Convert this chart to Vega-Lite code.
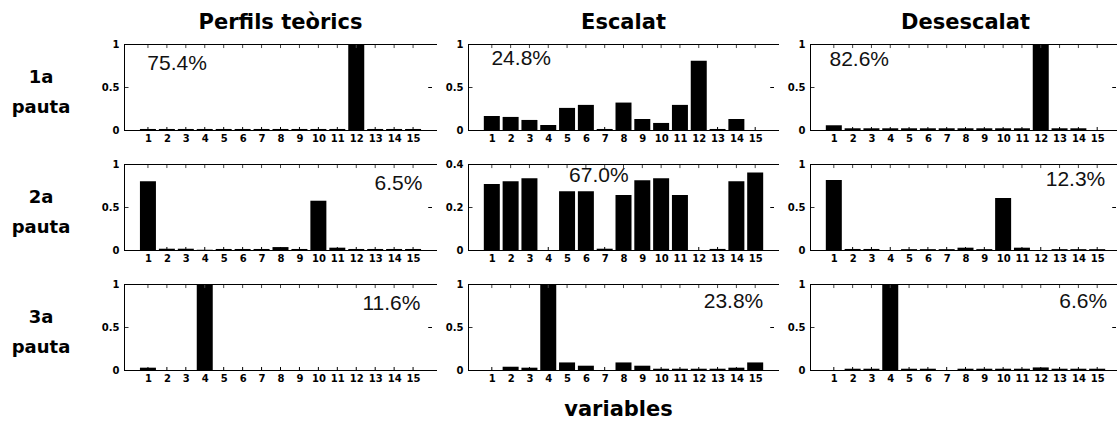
{
 "$schema": "https://vega.github.io/schema/vega-lite/v6.json",
 "padding": {"left": 0, "top": 12, "right": 0, "bottom": 0},
 "background": "white",
 "bounds": "flush",
 "align": "each",
 "columns": 4,
 "spacing": {"row": 34, "column": 31},
 "config": {
  "view": {"stroke": null},
  "axis": {"grid": false, "domainColor": "black", "domainWidth": 1, "tickColor": "#333", "tickWidth": 1, "labelFont": "DejaVu Sans", "labelFontSize": 10, "labelFontWeight": "bold", "labelColor": "black", "labelFlush": false, "labelOverlap": false, "titleFont": "DejaVu Sans", "titleColor": "black", "zindex": 1},
  "axisBottom": {"domain": false, "ticks": false, "labelPadding": 3},
  "axisLeft": {"tickSize": -4, "labelPadding": 9},
  "title": {"font": "DejaVu Sans", "fontSize": 21, "fontWeight": "bold", "color": "black", "frame": "group", "offset": 6, "anchor": "middle"}
 },
 "datasets": {
  "files": [
   {"pauta": "1a", "etiqueta": "1a\npauta"},
   {"pauta": "2a", "etiqueta": "2a\npauta"},
   {"pauta": "3a", "etiqueta": "3a\npauta"}
  ],
  "notes": [
   {"pauta": "1a", "perfil": "teoric", "pct": "75.4%"},
   {"pauta": "1a", "perfil": "escalat", "pct": "24.8%"},
   {"pauta": "1a", "perfil": "desescalat", "pct": "82.6%"},
   {"pauta": "2a", "perfil": "teoric", "pct": "6.5%"},
   {"pauta": "2a", "perfil": "escalat", "pct": "67.0%"},
   {"pauta": "2a", "perfil": "desescalat", "pct": "12.3%"},
   {"pauta": "3a", "perfil": "teoric", "pct": "11.6%"},
   {"pauta": "3a", "perfil": "escalat", "pct": "23.8%"},
   {"pauta": "3a", "perfil": "desescalat", "pct": "6.6%"}
  ],
  "barres": [
   {"pauta": "1a", "perfil": "teoric", "variable": 1, "valor": 0.012},
   {"pauta": "1a", "perfil": "teoric", "variable": 2, "valor": 0.012},
   {"pauta": "1a", "perfil": "teoric", "variable": 3, "valor": 0.012},
   {"pauta": "1a", "perfil": "teoric", "variable": 4, "valor": 0.012},
   {"pauta": "1a", "perfil": "teoric", "variable": 5, "valor": 0.012},
   {"pauta": "1a", "perfil": "teoric", "variable": 6, "valor": 0.012},
   {"pauta": "1a", "perfil": "teoric", "variable": 7, "valor": 0.012},
   {"pauta": "1a", "perfil": "teoric", "variable": 8, "valor": 0.012},
   {"pauta": "1a", "perfil": "teoric", "variable": 9, "valor": 0.012},
   {"pauta": "1a", "perfil": "teoric", "variable": 10, "valor": 0.012},
   {"pauta": "1a", "perfil": "teoric", "variable": 11, "valor": 0.012},
   {"pauta": "1a", "perfil": "teoric", "variable": 12, "valor": 1},
   {"pauta": "1a", "perfil": "teoric", "variable": 13, "valor": 0.012},
   {"pauta": "1a", "perfil": "teoric", "variable": 14, "valor": 0.012},
   {"pauta": "1a", "perfil": "teoric", "variable": 15, "valor": 0.012},
   {"pauta": "1a", "perfil": "escalat", "variable": 1, "valor": 0.163},
   {"pauta": "1a", "perfil": "escalat", "variable": 2, "valor": 0.152},
   {"pauta": "1a", "perfil": "escalat", "variable": 3, "valor": 0.117},
   {"pauta": "1a", "perfil": "escalat", "variable": 4, "valor": 0.058},
   {"pauta": "1a", "perfil": "escalat", "variable": 5, "valor": 0.257},
   {"pauta": "1a", "perfil": "escalat", "variable": 6, "valor": 0.292},
   {"pauta": "1a", "perfil": "escalat", "variable": 7, "valor": 0.012},
   {"pauta": "1a", "perfil": "escalat", "variable": 8, "valor": 0.319},
   {"pauta": "1a", "perfil": "escalat", "variable": 9, "valor": 0.128},
   {"pauta": "1a", "perfil": "escalat", "variable": 10, "valor": 0.082},
   {"pauta": "1a", "perfil": "escalat", "variable": 11, "valor": 0.292},
   {"pauta": "1a", "perfil": "escalat", "variable": 12, "valor": 0.805},
   {"pauta": "1a", "perfil": "escalat", "variable": 13, "valor": 0.012},
   {"pauta": "1a", "perfil": "escalat", "variable": 14, "valor": 0.128},
   {"pauta": "1a", "perfil": "escalat", "variable": 15, "valor": 0},
   {"pauta": "1a", "perfil": "desescalat", "variable": 1, "valor": 0.055},
   {"pauta": "1a", "perfil": "desescalat", "variable": 2, "valor": 0.02},
   {"pauta": "1a", "perfil": "desescalat", "variable": 3, "valor": 0.02},
   {"pauta": "1a", "perfil": "desescalat", "variable": 4, "valor": 0.02},
   {"pauta": "1a", "perfil": "desescalat", "variable": 5, "valor": 0.02},
   {"pauta": "1a", "perfil": "desescalat", "variable": 6, "valor": 0.02},
   {"pauta": "1a", "perfil": "desescalat", "variable": 7, "valor": 0.02},
   {"pauta": "1a", "perfil": "desescalat", "variable": 8, "valor": 0.02},
   {"pauta": "1a", "perfil": "desescalat", "variable": 9, "valor": 0.02},
   {"pauta": "1a", "perfil": "desescalat", "variable": 10, "valor": 0.02},
   {"pauta": "1a", "perfil": "desescalat", "variable": 11, "valor": 0.02},
   {"pauta": "1a", "perfil": "desescalat", "variable": 12, "valor": 1},
   {"pauta": "1a", "perfil": "desescalat", "variable": 13, "valor": 0.02},
   {"pauta": "1a", "perfil": "desescalat", "variable": 14, "valor": 0.02},
   {"pauta": "1a", "perfil": "desescalat", "variable": 15, "valor": 0},
   {"pauta": "2a", "perfil": "teoric", "variable": 1, "valor": 0.8},
   {"pauta": "2a", "perfil": "teoric", "variable": 2, "valor": 0.015},
   {"pauta": "2a", "perfil": "teoric", "variable": 3, "valor": 0.015},
   {"pauta": "2a", "perfil": "teoric", "variable": 4, "valor": 0.003},
   {"pauta": "2a", "perfil": "teoric", "variable": 5, "valor": 0.012},
   {"pauta": "2a", "perfil": "teoric", "variable": 6, "valor": 0.012},
   {"pauta": "2a", "perfil": "teoric", "variable": 7, "valor": 0.012},
   {"pauta": "2a", "perfil": "teoric", "variable": 8, "valor": 0.034},
   {"pauta": "2a", "perfil": "teoric", "variable": 9, "valor": 0.012},
   {"pauta": "2a", "perfil": "teoric", "variable": 10, "valor": 0.573},
   {"pauta": "2a", "perfil": "teoric", "variable": 11, "valor": 0.027},
   {"pauta": "2a", "perfil": "teoric", "variable": 12, "valor": 0.012},
   {"pauta": "2a", "perfil": "teoric", "variable": 13, "valor": 0.012},
   {"pauta": "2a", "perfil": "teoric", "variable": 14, "valor": 0.012},
   {"pauta": "2a", "perfil": "teoric", "variable": 15, "valor": 0.012},
   {"pauta": "2a", "perfil": "escalat", "variable": 1, "valor": 0.307},
   {"pauta": "2a", "perfil": "escalat", "variable": 2, "valor": 0.32},
   {"pauta": "2a", "perfil": "escalat", "variable": 3, "valor": 0.334},
   {"pauta": "2a", "perfil": "escalat", "variable": 4, "valor": 0},
   {"pauta": "2a", "perfil": "escalat", "variable": 5, "valor": 0.273},
   {"pauta": "2a", "perfil": "escalat", "variable": 6, "valor": 0.273},
   {"pauta": "2a", "perfil": "escalat", "variable": 7, "valor": 0.006},
   {"pauta": "2a", "perfil": "escalat", "variable": 8, "valor": 0.256},
   {"pauta": "2a", "perfil": "escalat", "variable": 9, "valor": 0.324},
   {"pauta": "2a", "perfil": "escalat", "variable": 10, "valor": 0.334},
   {"pauta": "2a", "perfil": "escalat", "variable": 11, "valor": 0.256},
   {"pauta": "2a", "perfil": "escalat", "variable": 12, "valor": 0},
   {"pauta": "2a", "perfil": "escalat", "variable": 13, "valor": 0.005},
   {"pauta": "2a", "perfil": "escalat", "variable": 14, "valor": 0.32},
   {"pauta": "2a", "perfil": "escalat", "variable": 15, "valor": 0.361},
   {"pauta": "2a", "perfil": "desescalat", "variable": 1, "valor": 0.815},
   {"pauta": "2a", "perfil": "desescalat", "variable": 2, "valor": 0.012},
   {"pauta": "2a", "perfil": "desescalat", "variable": 3, "valor": 0.012},
   {"pauta": "2a", "perfil": "desescalat", "variable": 4, "valor": 0},
   {"pauta": "2a", "perfil": "desescalat", "variable": 5, "valor": 0.01},
   {"pauta": "2a", "perfil": "desescalat", "variable": 6, "valor": 0.01},
   {"pauta": "2a", "perfil": "desescalat", "variable": 7, "valor": 0.01},
   {"pauta": "2a", "perfil": "desescalat", "variable": 8, "valor": 0.027},
   {"pauta": "2a", "perfil": "desescalat", "variable": 9, "valor": 0.01},
   {"pauta": "2a", "perfil": "desescalat", "variable": 10, "valor": 0.604},
   {"pauta": "2a", "perfil": "desescalat", "variable": 11, "valor": 0.027},
   {"pauta": "2a", "perfil": "desescalat", "variable": 12, "valor": 0},
   {"pauta": "2a", "perfil": "desescalat", "variable": 13, "valor": 0.01},
   {"pauta": "2a", "perfil": "desescalat", "variable": 14, "valor": 0.01},
   {"pauta": "2a", "perfil": "desescalat", "variable": 15, "valor": 0.01},
   {"pauta": "3a", "perfil": "teoric", "variable": 1, "valor": 0.027},
   {"pauta": "3a", "perfil": "teoric", "variable": 2, "valor": 0},
   {"pauta": "3a", "perfil": "teoric", "variable": 3, "valor": 0},
   {"pauta": "3a", "perfil": "teoric", "variable": 4, "valor": 1},
   {"pauta": "3a", "perfil": "teoric", "variable": 5, "valor": 0},
   {"pauta": "3a", "perfil": "teoric", "variable": 6, "valor": 0},
   {"pauta": "3a", "perfil": "teoric", "variable": 7, "valor": 0},
   {"pauta": "3a", "perfil": "teoric", "variable": 8, "valor": 0},
   {"pauta": "3a", "perfil": "teoric", "variable": 9, "valor": 0},
   {"pauta": "3a", "perfil": "teoric", "variable": 10, "valor": 0},
   {"pauta": "3a", "perfil": "teoric", "variable": 11, "valor": 0},
   {"pauta": "3a", "perfil": "teoric", "variable": 12, "valor": 0},
   {"pauta": "3a", "perfil": "teoric", "variable": 13, "valor": 0},
   {"pauta": "3a", "perfil": "teoric", "variable": 14, "valor": 0},
   {"pauta": "3a", "perfil": "teoric", "variable": 15, "valor": 0},
   {"pauta": "3a", "perfil": "escalat", "variable": 1, "valor": 0},
   {"pauta": "3a", "perfil": "escalat", "variable": 2, "valor": 0.038},
   {"pauta": "3a", "perfil": "escalat", "variable": 3, "valor": 0.027},
   {"pauta": "3a", "perfil": "escalat", "variable": 4, "valor": 1},
   {"pauta": "3a", "perfil": "escalat", "variable": 5, "valor": 0.088},
   {"pauta": "3a", "perfil": "escalat", "variable": 6, "valor": 0.05},
   {"pauta": "3a", "perfil": "escalat", "variable": 7, "valor": 0},
   {"pauta": "3a", "perfil": "escalat", "variable": 8, "valor": 0.088},
   {"pauta": "3a", "perfil": "escalat", "variable": 9, "valor": 0.05},
   {"pauta": "3a", "perfil": "escalat", "variable": 10, "valor": 0.015},
   {"pauta": "3a", "perfil": "escalat", "variable": 11, "valor": 0.015},
   {"pauta": "3a", "perfil": "escalat", "variable": 12, "valor": 0.015},
   {"pauta": "3a", "perfil": "escalat", "variable": 13, "valor": 0.015},
   {"pauta": "3a", "perfil": "escalat", "variable": 14, "valor": 0.027},
   {"pauta": "3a", "perfil": "escalat", "variable": 15, "valor": 0.088},
   {"pauta": "3a", "perfil": "desescalat", "variable": 1, "valor": 0},
   {"pauta": "3a", "perfil": "desescalat", "variable": 2, "valor": 0.015},
   {"pauta": "3a", "perfil": "desescalat", "variable": 3, "valor": 0.015},
   {"pauta": "3a", "perfil": "desescalat", "variable": 4, "valor": 1},
   {"pauta": "3a", "perfil": "desescalat", "variable": 5, "valor": 0.015},
   {"pauta": "3a", "perfil": "desescalat", "variable": 6, "valor": 0.015},
   {"pauta": "3a", "perfil": "desescalat", "variable": 7, "valor": 0},
   {"pauta": "3a", "perfil": "desescalat", "variable": 8, "valor": 0.015},
   {"pauta": "3a", "perfil": "desescalat", "variable": 9, "valor": 0.015},
   {"pauta": "3a", "perfil": "desescalat", "variable": 10, "valor": 0.015},
   {"pauta": "3a", "perfil": "desescalat", "variable": 11, "valor": 0.015},
   {"pauta": "3a", "perfil": "desescalat", "variable": 12, "valor": 0.03},
   {"pauta": "3a", "perfil": "desescalat", "variable": 13, "valor": 0.015},
   {"pauta": "3a", "perfil": "desescalat", "variable": 14, "valor": 0.015},
   {"pauta": "3a", "perfil": "desescalat", "variable": 15, "valor": 0.015}
  ]
 },
 "concat": [
   {"width": 93, "height": 86, "view": {"fill": "white", "stroke": null}, "data": {"name": "files"}, "transform": [{"filter": "datum.pauta==='1a'"}],
    "mark": {"type": "text", "lineBreak": "\n", "font": "DejaVu Sans", "fontSize": 18, "fontWeight": "bold", "lineHeight": 30, "align": "center", "baseline": "middle", "dx": -5.5, "dy": -9, "color": "black"},
    "encoding": {"text": {"field": "etiqueta"}}},
   {"width": 313, "height": 86, "title": "Perfils teòrics",
    "layer": [
     {"data": {"name": "barres"}, "transform": [{"filter": "datum.pauta==='1a'&&datum.perfil==='teoric'"}], "mark": {"type": "bar", "orient": "vertical", "width": 16, "color": "black"},
      "encoding": {"x": {"field": "variable", "type": "quantitative", "title": null, "scale": {"domain": [0, 16], "nice": false, "zero": false}, "axis": {"orient": "bottom", "values": [1,2,3,4,5,6,7,8,9,10,11,12,13,14,15], "format": "d"}},
                   "y": {"field": "valor", "type": "quantitative", "title": null, "scale": {"domain": [0, 1], "nice": false}, "axis": {"orient": "left", "values": [0, 0.5, 1], "format": "~g"}}}},
     {"data": {"name": "barres"}, "transform": [{"filter": "datum.pauta==='1a'&&datum.perfil==='teoric'"}], "mark": {"type": "rule", "color": "black"},
      "encoding": {"x": {"field": "variable", "type": "quantitative", "axis": null}, "y": {"datum": 0, "type": "quantitative", "axis": null}, "y2": {"datum": 0.035}}},
     {"data": {"name": "barres"}, "transform": [{"filter": "datum.pauta==='1a'&&datum.perfil==='teoric'"}], "mark": {"type": "rule", "color": "#444"},
      "encoding": {"x": {"field": "variable", "type": "quantitative", "axis": null}, "y": {"datum": 1, "type": "quantitative", "axis": null}, "y2": {"datum": 0.953}}},
     {"data": {"name": "notes"}, "transform": [{"filter": "datum.pauta==='1a'&&datum.perfil==='teoric'"}], "mark": {"type": "rule", "color": "black", "yOffset": 0.5},
      "encoding": {"y": {"datum": 1, "type": "quantitative", "axis": null}}},
     {"data": {"name": "notes"}, "transform": [{"filter": "datum.pauta==='1a'&&datum.perfil==='teoric'"}], "mark": {"type": "rule", "color": "black", "yOffset": 0.5},
      "encoding": {"y": {"datum": 0, "type": "quantitative", "axis": null}}},
     {"data": {"name": "notes"}, "transform": [{"filter": "datum.pauta==='1a'&&datum.perfil==='teoric'"}], "mark": {"type": "rule", "color": "black", "yOffset": 0.5},
      "encoding": {"x": {"datum": 16, "type": "quantitative", "axis": null}, "x2": {"datum": 15.8}, "y": {"datum": 0.5, "type": "quantitative", "axis": null}}},
     {"data": {"name": "notes"}, "transform": [{"filter": "datum.pauta==='1a'&&datum.perfil==='teoric'"}], "mark": {"type": "text", "align": "left", "baseline": "middle", "font": "Liberation Sans", "fontSize": 21, "color": "#111"},
      "encoding": {"x": {"datum": 0.97, "type": "quantitative", "axis": null}, "y": {"datum": 0.77, "type": "quantitative", "axis": null}, "text": {"field": "pct"}}}
    ],
    "resolve": {"axis": {"x": "independent", "y": "independent"}}},
   {"width": 311, "height": 86, "title": "Escalat",
    "layer": [
     {"data": {"name": "barres"}, "transform": [{"filter": "datum.pauta==='1a'&&datum.perfil==='escalat'"}], "mark": {"type": "bar", "orient": "vertical", "width": 16, "color": "black"},
      "encoding": {"x": {"field": "variable", "type": "quantitative", "title": null, "scale": {"domain": [0, 16], "nice": false, "zero": false}, "axis": {"orient": "bottom", "values": [1,2,3,4,5,6,7,8,9,10,11,12,13,14,15], "format": "d"}},
                   "y": {"field": "valor", "type": "quantitative", "title": null, "scale": {"domain": [0, 1], "nice": false}, "axis": {"orient": "left", "values": [0, 0.5, 1], "format": "~g"}}}},
     {"data": {"name": "barres"}, "transform": [{"filter": "datum.pauta==='1a'&&datum.perfil==='escalat'"}], "mark": {"type": "rule", "color": "black"},
      "encoding": {"x": {"field": "variable", "type": "quantitative", "axis": null}, "y": {"datum": 0, "type": "quantitative", "axis": null}, "y2": {"datum": 0.035}}},
     {"data": {"name": "barres"}, "transform": [{"filter": "datum.pauta==='1a'&&datum.perfil==='escalat'"}], "mark": {"type": "rule", "color": "#444"},
      "encoding": {"x": {"field": "variable", "type": "quantitative", "axis": null}, "y": {"datum": 1, "type": "quantitative", "axis": null}, "y2": {"datum": 0.953}}},
     {"data": {"name": "notes"}, "transform": [{"filter": "datum.pauta==='1a'&&datum.perfil==='escalat'"}], "mark": {"type": "rule", "color": "black", "yOffset": 0.5},
      "encoding": {"y": {"datum": 1, "type": "quantitative", "axis": null}}},
     {"data": {"name": "notes"}, "transform": [{"filter": "datum.pauta==='1a'&&datum.perfil==='escalat'"}], "mark": {"type": "rule", "color": "black", "yOffset": 0.5},
      "encoding": {"y": {"datum": 0, "type": "quantitative", "axis": null}}},
     {"data": {"name": "notes"}, "transform": [{"filter": "datum.pauta==='1a'&&datum.perfil==='escalat'"}], "mark": {"type": "rule", "color": "black", "yOffset": 0.5},
      "encoding": {"x": {"datum": 16, "type": "quantitative", "axis": null}, "x2": {"datum": 15.8}, "y": {"datum": 0.5, "type": "quantitative", "axis": null}}},
     {"data": {"name": "notes"}, "transform": [{"filter": "datum.pauta==='1a'&&datum.perfil==='escalat'"}], "mark": {"type": "text", "align": "left", "baseline": "middle", "font": "Liberation Sans", "fontSize": 21, "color": "#111"},
      "encoding": {"x": {"datum": 0.98, "type": "quantitative", "axis": null}, "y": {"datum": 0.83, "type": "quantitative", "axis": null}, "text": {"field": "pct"}}}
    ],
    "resolve": {"axis": {"x": "independent", "y": "independent"}}},
   {"width": 311, "height": 86, "title": "Desescalat",
    "layer": [
     {"data": {"name": "barres"}, "transform": [{"filter": "datum.pauta==='1a'&&datum.perfil==='desescalat'"}], "mark": {"type": "bar", "orient": "vertical", "width": 16, "color": "black"},
      "encoding": {"x": {"field": "variable", "type": "quantitative", "title": null, "scale": {"domain": [0, 16], "nice": false, "zero": false}, "axis": {"orient": "bottom", "values": [1,2,3,4,5,6,7,8,9,10,11,12,13,14,15], "format": "d"}},
                   "y": {"field": "valor", "type": "quantitative", "title": null, "scale": {"domain": [0, 1], "nice": false}, "axis": {"orient": "left", "values": [0, 0.5, 1], "format": "~g"}}}},
     {"data": {"name": "barres"}, "transform": [{"filter": "datum.pauta==='1a'&&datum.perfil==='desescalat'"}], "mark": {"type": "rule", "color": "black"},
      "encoding": {"x": {"field": "variable", "type": "quantitative", "axis": null}, "y": {"datum": 0, "type": "quantitative", "axis": null}, "y2": {"datum": 0.035}}},
     {"data": {"name": "barres"}, "transform": [{"filter": "datum.pauta==='1a'&&datum.perfil==='desescalat'"}], "mark": {"type": "rule", "color": "#444"},
      "encoding": {"x": {"field": "variable", "type": "quantitative", "axis": null}, "y": {"datum": 1, "type": "quantitative", "axis": null}, "y2": {"datum": 0.953}}},
     {"data": {"name": "notes"}, "transform": [{"filter": "datum.pauta==='1a'&&datum.perfil==='desescalat'"}], "mark": {"type": "rule", "color": "black", "yOffset": 0.5},
      "encoding": {"y": {"datum": 1, "type": "quantitative", "axis": null}}},
     {"data": {"name": "notes"}, "transform": [{"filter": "datum.pauta==='1a'&&datum.perfil==='desescalat'"}], "mark": {"type": "rule", "color": "black", "yOffset": 0.5},
      "encoding": {"y": {"datum": 0, "type": "quantitative", "axis": null}}},
     {"data": {"name": "notes"}, "transform": [{"filter": "datum.pauta==='1a'&&datum.perfil==='desescalat'"}], "mark": {"type": "rule", "color": "black", "yOffset": 0.5},
      "encoding": {"x": {"datum": 16, "type": "quantitative", "axis": null}, "x2": {"datum": 15.8}, "y": {"datum": 0.5, "type": "quantitative", "axis": null}}},
     {"data": {"name": "notes"}, "transform": [{"filter": "datum.pauta==='1a'&&datum.perfil==='desescalat'"}], "mark": {"type": "text", "align": "left", "baseline": "middle", "font": "Liberation Sans", "fontSize": 21, "color": "#111"},
      "encoding": {"x": {"datum": 0.77, "type": "quantitative", "axis": null}, "y": {"datum": 0.81, "type": "quantitative", "axis": null}, "text": {"field": "pct"}}}
    ],
    "resolve": {"axis": {"x": "independent", "y": "independent"}}},
   {"width": 93, "height": 86, "view": {"fill": "white", "stroke": null}, "data": {"name": "files"}, "transform": [{"filter": "datum.pauta==='2a'"}],
    "mark": {"type": "text", "lineBreak": "\n", "font": "DejaVu Sans", "fontSize": 18, "fontWeight": "bold", "lineHeight": 30, "align": "center", "baseline": "middle", "dx": -5.5, "dy": -9, "color": "black"},
    "encoding": {"text": {"field": "etiqueta"}}},
   {"width": 313, "height": 86,
    "layer": [
     {"data": {"name": "barres"}, "transform": [{"filter": "datum.pauta==='2a'&&datum.perfil==='teoric'"}], "mark": {"type": "bar", "orient": "vertical", "width": 16, "color": "black"},
      "encoding": {"x": {"field": "variable", "type": "quantitative", "title": null, "scale": {"domain": [0, 16], "nice": false, "zero": false}, "axis": {"orient": "bottom", "values": [1,2,3,4,5,6,7,8,9,10,11,12,13,14,15], "format": "d"}},
                   "y": {"field": "valor", "type": "quantitative", "title": null, "scale": {"domain": [0, 1], "nice": false}, "axis": {"orient": "left", "values": [0, 0.5, 1], "format": "~g"}}}},
     {"data": {"name": "barres"}, "transform": [{"filter": "datum.pauta==='2a'&&datum.perfil==='teoric'"}], "mark": {"type": "rule", "color": "black"},
      "encoding": {"x": {"field": "variable", "type": "quantitative", "axis": null}, "y": {"datum": 0, "type": "quantitative", "axis": null}, "y2": {"datum": 0.035}}},
     {"data": {"name": "barres"}, "transform": [{"filter": "datum.pauta==='2a'&&datum.perfil==='teoric'"}], "mark": {"type": "rule", "color": "#444"},
      "encoding": {"x": {"field": "variable", "type": "quantitative", "axis": null}, "y": {"datum": 1, "type": "quantitative", "axis": null}, "y2": {"datum": 0.953}}},
     {"data": {"name": "notes"}, "transform": [{"filter": "datum.pauta==='2a'&&datum.perfil==='teoric'"}], "mark": {"type": "rule", "color": "black", "yOffset": 0.5},
      "encoding": {"y": {"datum": 1, "type": "quantitative", "axis": null}}},
     {"data": {"name": "notes"}, "transform": [{"filter": "datum.pauta==='2a'&&datum.perfil==='teoric'"}], "mark": {"type": "rule", "color": "black", "yOffset": 0.5},
      "encoding": {"y": {"datum": 0, "type": "quantitative", "axis": null}}},
     {"data": {"name": "notes"}, "transform": [{"filter": "datum.pauta==='2a'&&datum.perfil==='teoric'"}], "mark": {"type": "rule", "color": "black", "yOffset": 0.5},
      "encoding": {"x": {"datum": 16, "type": "quantitative", "axis": null}, "x2": {"datum": 15.8}, "y": {"datum": 0.5, "type": "quantitative", "axis": null}}},
     {"data": {"name": "notes"}, "transform": [{"filter": "datum.pauta==='2a'&&datum.perfil==='teoric'"}], "mark": {"type": "text", "align": "right", "baseline": "middle", "font": "Liberation Sans", "fontSize": 21, "color": "#111"},
      "encoding": {"x": {"datum": 15.49, "type": "quantitative", "axis": null}, "y": {"datum": 0.773, "type": "quantitative", "axis": null}, "text": {"field": "pct"}}}
    ],
    "resolve": {"axis": {"x": "independent", "y": "independent"}}},
   {"width": 311, "height": 86,
    "layer": [
     {"data": {"name": "barres"}, "transform": [{"filter": "datum.pauta==='2a'&&datum.perfil==='escalat'"}], "mark": {"type": "bar", "orient": "vertical", "width": 16, "color": "black"},
      "encoding": {"x": {"field": "variable", "type": "quantitative", "title": null, "scale": {"domain": [0, 16], "nice": false, "zero": false}, "axis": {"orient": "bottom", "values": [1,2,3,4,5,6,7,8,9,10,11,12,13,14,15], "format": "d"}},
                   "y": {"field": "valor", "type": "quantitative", "title": null, "scale": {"domain": [0, 0.4], "nice": false}, "axis": {"orient": "left", "values": [0, 0.2, 0.4], "format": "~g"}}}},
     {"data": {"name": "barres"}, "transform": [{"filter": "datum.pauta==='2a'&&datum.perfil==='escalat'"}], "mark": {"type": "rule", "color": "black"},
      "encoding": {"x": {"field": "variable", "type": "quantitative", "axis": null}, "y": {"datum": 0, "type": "quantitative", "axis": null}, "y2": {"datum": 0.014}}},
     {"data": {"name": "barres"}, "transform": [{"filter": "datum.pauta==='2a'&&datum.perfil==='escalat'"}], "mark": {"type": "rule", "color": "#444"},
      "encoding": {"x": {"field": "variable", "type": "quantitative", "axis": null}, "y": {"datum": 0.4, "type": "quantitative", "axis": null}, "y2": {"datum": 0.381}}},
     {"data": {"name": "notes"}, "transform": [{"filter": "datum.pauta==='2a'&&datum.perfil==='escalat'"}], "mark": {"type": "rule", "color": "black", "yOffset": 0.5},
      "encoding": {"y": {"datum": 0.4, "type": "quantitative", "axis": null}}},
     {"data": {"name": "notes"}, "transform": [{"filter": "datum.pauta==='2a'&&datum.perfil==='escalat'"}], "mark": {"type": "rule", "color": "black", "yOffset": 0.5},
      "encoding": {"y": {"datum": 0, "type": "quantitative", "axis": null}}},
     {"data": {"name": "notes"}, "transform": [{"filter": "datum.pauta==='2a'&&datum.perfil==='escalat'"}], "mark": {"type": "rule", "color": "black", "yOffset": 0.5},
      "encoding": {"x": {"datum": 16, "type": "quantitative", "axis": null}, "x2": {"datum": 15.8}, "y": {"datum": 0.2, "type": "quantitative", "axis": null}}},
     {"data": {"name": "notes"}, "transform": [{"filter": "datum.pauta==='2a'&&datum.perfil==='escalat'"}], "mark": {"type": "text", "align": "center", "baseline": "middle", "font": "Liberation Sans", "fontSize": 21, "color": "#111"},
      "encoding": {"x": {"datum": 6.69, "type": "quantitative", "axis": null}, "y": {"datum": 0.344, "type": "quantitative", "axis": null}, "text": {"field": "pct"}}}
    ],
    "resolve": {"axis": {"x": "independent", "y": "independent"}}},
   {"width": 311, "height": 86,
    "layer": [
     {"data": {"name": "barres"}, "transform": [{"filter": "datum.pauta==='2a'&&datum.perfil==='desescalat'"}], "mark": {"type": "bar", "orient": "vertical", "width": 16, "color": "black"},
      "encoding": {"x": {"field": "variable", "type": "quantitative", "title": null, "scale": {"domain": [0, 16], "nice": false, "zero": false}, "axis": {"orient": "bottom", "values": [1,2,3,4,5,6,7,8,9,10,11,12,13,14,15], "format": "d"}},
                   "y": {"field": "valor", "type": "quantitative", "title": null, "scale": {"domain": [0, 1], "nice": false}, "axis": {"orient": "left", "values": [0, 0.5, 1], "format": "~g"}}}},
     {"data": {"name": "barres"}, "transform": [{"filter": "datum.pauta==='2a'&&datum.perfil==='desescalat'"}], "mark": {"type": "rule", "color": "black"},
      "encoding": {"x": {"field": "variable", "type": "quantitative", "axis": null}, "y": {"datum": 0, "type": "quantitative", "axis": null}, "y2": {"datum": 0.035}}},
     {"data": {"name": "barres"}, "transform": [{"filter": "datum.pauta==='2a'&&datum.perfil==='desescalat'"}], "mark": {"type": "rule", "color": "#444"},
      "encoding": {"x": {"field": "variable", "type": "quantitative", "axis": null}, "y": {"datum": 1, "type": "quantitative", "axis": null}, "y2": {"datum": 0.953}}},
     {"data": {"name": "notes"}, "transform": [{"filter": "datum.pauta==='2a'&&datum.perfil==='desescalat'"}], "mark": {"type": "rule", "color": "black", "yOffset": 0.5},
      "encoding": {"y": {"datum": 1, "type": "quantitative", "axis": null}}},
     {"data": {"name": "notes"}, "transform": [{"filter": "datum.pauta==='2a'&&datum.perfil==='desescalat'"}], "mark": {"type": "rule", "color": "black", "yOffset": 0.5},
      "encoding": {"y": {"datum": 0, "type": "quantitative", "axis": null}}},
     {"data": {"name": "notes"}, "transform": [{"filter": "datum.pauta==='2a'&&datum.perfil==='desescalat'"}], "mark": {"type": "rule", "color": "black", "yOffset": 0.5},
      "encoding": {"x": {"datum": 16, "type": "quantitative", "axis": null}, "x2": {"datum": 15.8}, "y": {"datum": 0.5, "type": "quantitative", "axis": null}}},
     {"data": {"name": "notes"}, "transform": [{"filter": "datum.pauta==='2a'&&datum.perfil==='desescalat'"}], "mark": {"type": "text", "align": "right", "baseline": "middle", "font": "Liberation Sans", "fontSize": 21, "color": "#111"},
      "encoding": {"x": {"datum": 15.43, "type": "quantitative", "axis": null}, "y": {"datum": 0.81, "type": "quantitative", "axis": null}, "text": {"field": "pct"}}}
    ],
    "resolve": {"axis": {"x": "independent", "y": "independent"}}},
   {"width": 93, "height": 86, "view": {"fill": "white", "stroke": null}, "data": {"name": "files"}, "transform": [{"filter": "datum.pauta==='3a'"}],
    "mark": {"type": "text", "lineBreak": "\n", "font": "DejaVu Sans", "fontSize": 18, "fontWeight": "bold", "lineHeight": 30, "align": "center", "baseline": "middle", "dx": -5.5, "dy": -9, "color": "black"},
    "encoding": {"text": {"field": "etiqueta"}}},
   {"width": 313, "height": 86,
    "layer": [
     {"data": {"name": "barres"}, "transform": [{"filter": "datum.pauta==='3a'&&datum.perfil==='teoric'"}], "mark": {"type": "bar", "orient": "vertical", "width": 16, "color": "black"},
      "encoding": {"x": {"field": "variable", "type": "quantitative", "title": null, "scale": {"domain": [0, 16], "nice": false, "zero": false}, "axis": {"orient": "bottom", "values": [1,2,3,4,5,6,7,8,9,10,11,12,13,14,15], "format": "d"}},
                   "y": {"field": "valor", "type": "quantitative", "title": null, "scale": {"domain": [0, 1], "nice": false}, "axis": {"orient": "left", "values": [0, 0.5, 1], "format": "~g"}}}},
     {"data": {"name": "barres"}, "transform": [{"filter": "datum.pauta==='3a'&&datum.perfil==='teoric'"}], "mark": {"type": "rule", "color": "black"},
      "encoding": {"x": {"field": "variable", "type": "quantitative", "axis": null}, "y": {"datum": 0, "type": "quantitative", "axis": null}, "y2": {"datum": 0.035}}},
     {"data": {"name": "barres"}, "transform": [{"filter": "datum.pauta==='3a'&&datum.perfil==='teoric'"}], "mark": {"type": "rule", "color": "#444"},
      "encoding": {"x": {"field": "variable", "type": "quantitative", "axis": null}, "y": {"datum": 1, "type": "quantitative", "axis": null}, "y2": {"datum": 0.953}}},
     {"data": {"name": "notes"}, "transform": [{"filter": "datum.pauta==='3a'&&datum.perfil==='teoric'"}], "mark": {"type": "rule", "color": "black", "yOffset": 0.5},
      "encoding": {"y": {"datum": 1, "type": "quantitative", "axis": null}}},
     {"data": {"name": "notes"}, "transform": [{"filter": "datum.pauta==='3a'&&datum.perfil==='teoric'"}], "mark": {"type": "rule", "color": "black", "yOffset": 0.5},
      "encoding": {"y": {"datum": 0, "type": "quantitative", "axis": null}}},
     {"data": {"name": "notes"}, "transform": [{"filter": "datum.pauta==='3a'&&datum.perfil==='teoric'"}], "mark": {"type": "rule", "color": "black", "yOffset": 0.5},
      "encoding": {"x": {"datum": 16, "type": "quantitative", "axis": null}, "x2": {"datum": 15.8}, "y": {"datum": 0.5, "type": "quantitative", "axis": null}}},
     {"data": {"name": "notes"}, "transform": [{"filter": "datum.pauta==='3a'&&datum.perfil==='teoric'"}], "mark": {"type": "text", "align": "right", "baseline": "middle", "font": "Liberation Sans", "fontSize": 21, "color": "#111"},
      "encoding": {"x": {"datum": 15.39, "type": "quantitative", "axis": null}, "y": {"datum": 0.773, "type": "quantitative", "axis": null}, "text": {"field": "pct"}}}
    ],
    "resolve": {"axis": {"x": "independent", "y": "independent"}}},
   {"width": 311, "height": 86,
    "layer": [
     {"data": {"name": "barres"}, "transform": [{"filter": "datum.pauta==='3a'&&datum.perfil==='escalat'"}], "mark": {"type": "bar", "orient": "vertical", "width": 16, "color": "black"},
      "encoding": {"x": {"field": "variable", "type": "quantitative", "title": "variables", "scale": {"domain": [0, 16], "nice": false, "zero": false}, "axis": {"orient": "bottom", "values": [1,2,3,4,5,6,7,8,9,10,11,12,13,14,15], "format": "d", "titleFontSize": 21, "titleFontWeight": "bold", "titlePadding": 15, "titleX": 150}},
                   "y": {"field": "valor", "type": "quantitative", "title": null, "scale": {"domain": [0, 1], "nice": false}, "axis": {"orient": "left", "values": [0, 0.5, 1], "format": "~g"}}}},
     {"data": {"name": "barres"}, "transform": [{"filter": "datum.pauta==='3a'&&datum.perfil==='escalat'"}], "mark": {"type": "rule", "color": "black"},
      "encoding": {"x": {"field": "variable", "type": "quantitative", "axis": null}, "y": {"datum": 0, "type": "quantitative", "axis": null}, "y2": {"datum": 0.035}}},
     {"data": {"name": "barres"}, "transform": [{"filter": "datum.pauta==='3a'&&datum.perfil==='escalat'"}], "mark": {"type": "rule", "color": "#444"},
      "encoding": {"x": {"field": "variable", "type": "quantitative", "axis": null}, "y": {"datum": 1, "type": "quantitative", "axis": null}, "y2": {"datum": 0.953}}},
     {"data": {"name": "notes"}, "transform": [{"filter": "datum.pauta==='3a'&&datum.perfil==='escalat'"}], "mark": {"type": "rule", "color": "black", "yOffset": 0.5},
      "encoding": {"y": {"datum": 1, "type": "quantitative", "axis": null}}},
     {"data": {"name": "notes"}, "transform": [{"filter": "datum.pauta==='3a'&&datum.perfil==='escalat'"}], "mark": {"type": "rule", "color": "black", "yOffset": 0.5},
      "encoding": {"y": {"datum": 0, "type": "quantitative", "axis": null}}},
     {"data": {"name": "notes"}, "transform": [{"filter": "datum.pauta==='3a'&&datum.perfil==='escalat'"}], "mark": {"type": "rule", "color": "black", "yOffset": 0.5},
      "encoding": {"x": {"datum": 16, "type": "quantitative", "axis": null}, "x2": {"datum": 15.8}, "y": {"datum": 0.5, "type": "quantitative", "axis": null}}},
     {"data": {"name": "notes"}, "transform": [{"filter": "datum.pauta==='3a'&&datum.perfil==='escalat'"}], "mark": {"type": "text", "align": "right", "baseline": "middle", "font": "Liberation Sans", "fontSize": 21, "color": "#111"},
      "encoding": {"x": {"datum": 15.43, "type": "quantitative", "axis": null}, "y": {"datum": 0.793, "type": "quantitative", "axis": null}, "text": {"field": "pct"}}}
    ],
    "resolve": {"axis": {"x": "independent", "y": "independent"}}},
   {"width": 311, "height": 86,
    "layer": [
     {"data": {"name": "barres"}, "transform": [{"filter": "datum.pauta==='3a'&&datum.perfil==='desescalat'"}], "mark": {"type": "bar", "orient": "vertical", "width": 16, "color": "black"},
      "encoding": {"x": {"field": "variable", "type": "quantitative", "title": null, "scale": {"domain": [0, 16], "nice": false, "zero": false}, "axis": {"orient": "bottom", "values": [1,2,3,4,5,6,7,8,9,10,11,12,13,14,15], "format": "d"}},
                   "y": {"field": "valor", "type": "quantitative", "title": null, "scale": {"domain": [0, 1], "nice": false}, "axis": {"orient": "left", "values": [0, 0.5, 1], "format": "~g"}}}},
     {"data": {"name": "barres"}, "transform": [{"filter": "datum.pauta==='3a'&&datum.perfil==='desescalat'"}], "mark": {"type": "rule", "color": "black"},
      "encoding": {"x": {"field": "variable", "type": "quantitative", "axis": null}, "y": {"datum": 0, "type": "quantitative", "axis": null}, "y2": {"datum": 0.035}}},
     {"data": {"name": "barres"}, "transform": [{"filter": "datum.pauta==='3a'&&datum.perfil==='desescalat'"}], "mark": {"type": "rule", "color": "#444"},
      "encoding": {"x": {"field": "variable", "type": "quantitative", "axis": null}, "y": {"datum": 1, "type": "quantitative", "axis": null}, "y2": {"datum": 0.953}}},
     {"data": {"name": "notes"}, "transform": [{"filter": "datum.pauta==='3a'&&datum.perfil==='desescalat'"}], "mark": {"type": "rule", "color": "black", "yOffset": 0.5},
      "encoding": {"y": {"datum": 1, "type": "quantitative", "axis": null}}},
     {"data": {"name": "notes"}, "transform": [{"filter": "datum.pauta==='3a'&&datum.perfil==='desescalat'"}], "mark": {"type": "rule", "color": "black", "yOffset": 0.5},
      "encoding": {"y": {"datum": 0, "type": "quantitative", "axis": null}}},
     {"data": {"name": "notes"}, "transform": [{"filter": "datum.pauta==='3a'&&datum.perfil==='desescalat'"}], "mark": {"type": "rule", "color": "black", "yOffset": 0.5},
      "encoding": {"x": {"datum": 16, "type": "quantitative", "axis": null}, "x2": {"datum": 15.8}, "y": {"datum": 0.5, "type": "quantitative", "axis": null}}},
     {"data": {"name": "notes"}, "transform": [{"filter": "datum.pauta==='3a'&&datum.perfil==='desescalat'"}], "mark": {"type": "text", "align": "right", "baseline": "middle", "font": "Liberation Sans", "fontSize": 21, "color": "#111"},
      "encoding": {"x": {"datum": 15.53, "type": "quantitative", "axis": null}, "y": {"datum": 0.793, "type": "quantitative", "axis": null}, "text": {"field": "pct"}}}
    ],
    "resolve": {"axis": {"x": "independent", "y": "independent"}}}
 ]
}
